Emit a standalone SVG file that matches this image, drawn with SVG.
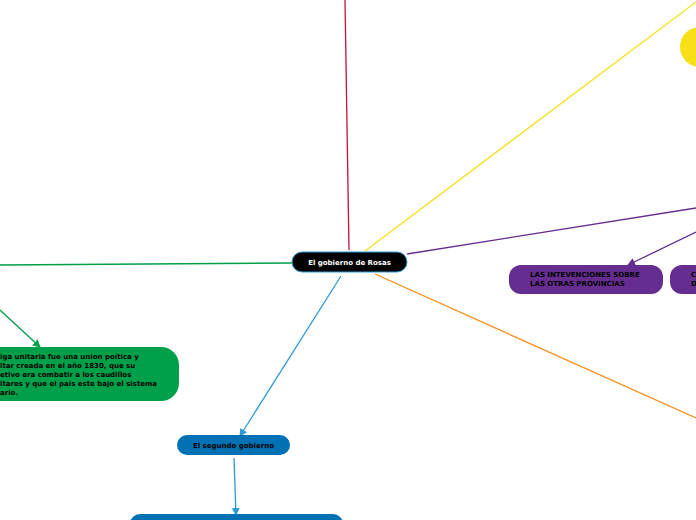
<svg xmlns="http://www.w3.org/2000/svg" width="696" height="520" viewBox="0 0 696 520">
<style>
text{font-family:"DejaVu Sans",sans-serif;font-weight:bold;font-size:7px;fill:#000}
.c{fill:none;stroke-width:1.3}
</style>
<defs>
<marker id="ag" markerWidth="8" markerHeight="8" refX="7" refY="4" orient="auto" markerUnits="userSpaceOnUse"><path d="M0,0L8,4L0,8z" fill="#00a04a"/></marker>
<marker id="ab" markerWidth="8" markerHeight="8" refX="7" refY="4" orient="auto" markerUnits="userSpaceOnUse"><path d="M0,0L8,4L0,8z" fill="#2b9ad8"/></marker>
<marker id="ap" markerWidth="8" markerHeight="8" refX="7" refY="4" orient="auto" markerUnits="userSpaceOnUse"><path d="M0,0L8,4L0,8z" fill="#662d91"/></marker>
</defs>
<rect width="696" height="520" fill="#fff"/>
<g id="connectors">
<path class="c" d="M345,0L349,250" stroke="#c0143c"/>
<path class="c" d="M365,251L696,2" stroke="#f7e018"/>
<path class="c" d="M407,254L696,208" stroke="#662d91"/>
<path class="c" d="M696,232L628,265" stroke="#662d91" marker-end="url(#ap)"/>
<path class="c" d="M375,274L696,418" stroke="#f7901e"/>
<path class="c" d="M292,263L0,265" stroke="#00a04a"/>
<path class="c" d="M0,310L40,347" stroke="#00a04a" marker-end="url(#ag)"/>
<path class="c" d="M341,276L240,436" stroke="#2b9ad8" marker-end="url(#ab)"/>
<path class="c" d="M234,458L236,515" stroke="#2b9ad8" marker-end="url(#ab)"/>
</g>
<g id="n-main"><rect x="292" y="252" width="115" height="20" rx="10" fill="#000" stroke="#2b9ad8" stroke-width="1"/><text x="349.5" y="265" text-anchor="middle" style="fill:#fff">El gobierno de Rosas</text></g>
<g id="n-yellow"><circle cx="700" cy="47" r="20" fill="#f7e018"/></g>
<g id="n-interv"><rect x="509" y="265" width="154" height="29" rx="12" fill="#662d91"/><text x="530" y="277">LAS INTEVENCIONES SOBRE</text><text x="530" y="286">LAS OTRAS PROVINCIAS</text></g>
<g id="n-purple2"><rect x="670" y="265" width="40" height="29" rx="12" fill="#662d91"/><text x="691" y="277">C</text><text x="691" y="286">D</text></g>
<g id="n-liga"><rect x="-20" y="347" width="199" height="54" rx="18" fill="#00a04a"/>
<text x="0" y="359">iga unitaria fue una union poítica y</text>
<text x="0" y="368">itar creada en el año 1830, que su</text>
<text x="0" y="377">etivo era combatir a los caudillos</text>
<text x="0" y="386">itares y que el pais este bajo el sistema</text>
<text x="0" y="395">ario.</text></g>
<g id="n-segundo"><rect x="177" y="435" width="113" height="20" rx="10" fill="#0071b3"/><text x="233.5" y="448" text-anchor="middle">El segundo gobierno</text></g>
<g id="n-blue2"><rect x="130" y="514" width="213" height="20" rx="10" fill="#0071b3"/></g>
</svg>
